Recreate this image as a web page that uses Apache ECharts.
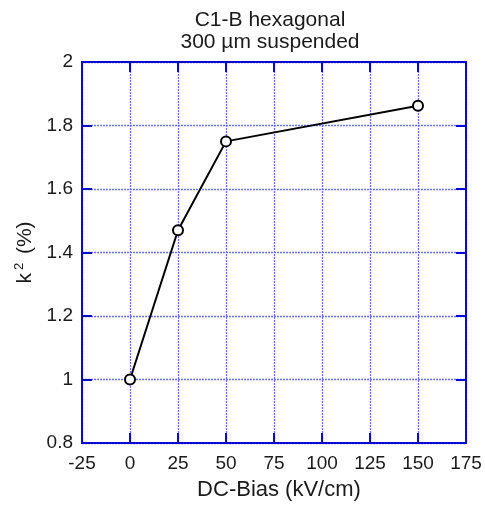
<!DOCTYPE html>
<html><head><meta charset="utf-8">
<script src="https://cdn.jsdelivr.net/npm/echarts@6/dist/echarts.min.js"></script>
<style>html,body{margin:0;padding:0;background:#fff}#c{width:485px;height:509px}</style>
</head><body><div id="c"></div>
<script>
const xValues = [0, 25, 50, 150];
const yValues = [1.0, 1.47, 1.75, 1.862];
const titleLines = ['C1-B hexagonal', '300 µm suspended'];
const xName = 'DC-Bias (kV/cm)';

const chart = echarts.init(document.getElementById('c'));
const frame = '#0a0ad0';
const font = 'Liberation Sans, Arial, sans-serif';
const baseX = {
  type: 'value', min: -25, max: 175, interval: 25,
  axisLine: {show: true, onZero: false, lineStyle: {color: frame, width: 2}},
  axisTick: {show: true, inside: true, length: 10, lineStyle: {color: frame, width: 2}},
};
const baseY = {
  type: 'value', min: 0.8, max: 2, interval: 0.2,
  axisLine: {show: true, onZero: false, lineStyle: {color: frame, width: 2}},
  axisTick: {show: true, inside: true, length: 10, lineStyle: {color: frame, width: 2}},
};
chart.setOption({
  animation: false,
  title: {
    text: titleLines.join('\n'), left: 265, top: 4, textAlign: 'center',
    textStyle: {fontFamily: font, fontSize: 21, fontWeight: 'normal', color: '#1a1a1a', lineHeight: 22}
  },
  grid: {left: 82, right: 19, top: 62, bottom: 66},
  xAxis: [
    Object.assign({}, baseX, {
      position: 'bottom',
      name: xName, nameLocation: 'middle', nameGap: 36,
      nameTextStyle: {fontFamily: font, fontSize: 22, color: '#1a1a1a', padding: [0, 0, 0, 10]},
      axisLabel: {fontFamily: font, fontSize: 19, color: '#1a1a1a', margin: 11},
      splitLine: {show: true, lineStyle: {color: '#6e6ef0', type: [2, 1], width: 1.3}}
    }),
    Object.assign({}, baseX, {position: 'top', axisLabel: {show: false}, splitLine: {show: false}})
  ],
  yAxis: [
    Object.assign({}, baseY, {
      position: 'left',
      name: '{k|k}{s|2}{k| (%)}', nameLocation: 'middle', nameGap: 40, nameRotate: 90,
      nameTextStyle: {
        rich: {
          k: {fontFamily: font, fontSize: 21, color: '#1a1a1a'},
          s: {fontFamily: font, fontSize: 13, color: '#1a1a1a', padding: [0, 3, 12, 3]}
        }
      },
      axisLabel: {fontFamily: font, fontSize: 19, color: '#1a1a1a', margin: 9},
      splitLine: {show: true, lineStyle: {color: '#6e6ef0', type: [2, 1], width: 1.3}}
    }),
    Object.assign({}, baseY, {position: 'right', axisLabel: {show: false}, splitLine: {show: false}})
  ],
  series: [{
    type: 'line',
    data: xValues.map((x, i) => [x, yValues[i]]),
    symbol: 'circle', symbolSize: 10,
    itemStyle: {color: '#fff', borderColor: '#000', borderWidth: 2},
    lineStyle: {color: '#000', width: 2}
  }]
});
</script></body></html>
